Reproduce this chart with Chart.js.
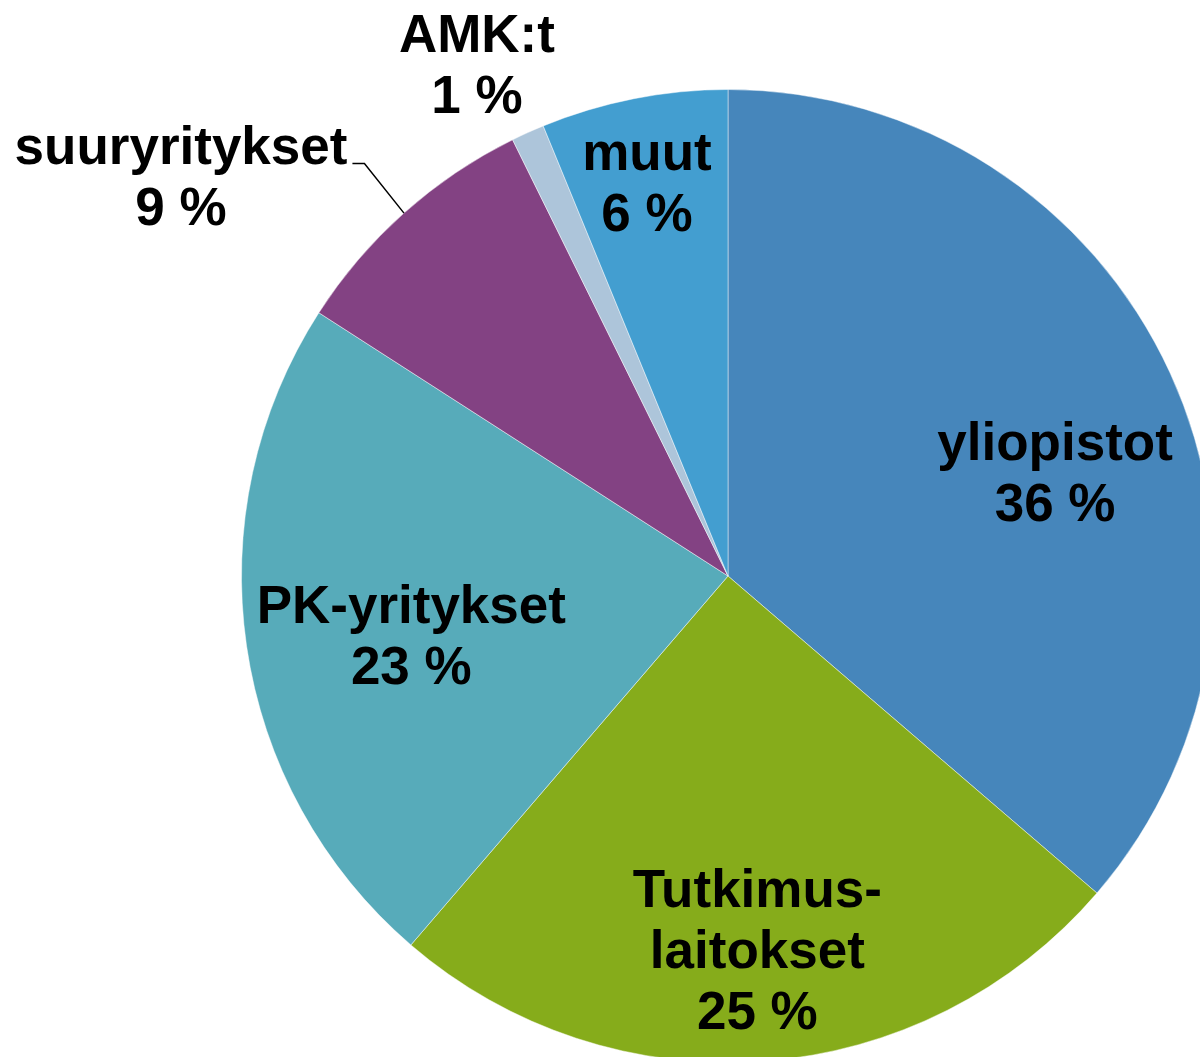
<!DOCTYPE html>
<html>
<head>
<meta charset="utf-8">
<script src="https://cdn.jsdelivr.net/npm/chart.js@4.4.0/dist/chart.umd.min.js"></script>
<style>
  html, body { margin: 0; padding: 0; background: #fff; overflow: hidden; }
  #wrap { position: absolute; left: 0; top: 0; width: 1300px; height: 1100px; }
</style>
</head>
<body>
<div id="wrap"><canvas id="chart-pie" width="1300" height="1100"></canvas></div>
<script>
// slices, clockwise from 12 o'clock
const categories = ["yliopistot", "Tutkimus-\nlaitokset", "PK-yritykset", "suuryritykset", "AMK:t", "muut"];
const shares = [36.3, 25.0, 22.8, 8.6, 1.1, 6.2];
const colors = ["#4686BB", "#86AC1B", "#57ABBA", "#834283", "#ADC5DA", "#439ED0"];

// label offset from each slice's tooltip point (first baseline)
const labelOffsets = [[106, -15], [11, 88], [-76, 12], [-385, -231], [-151, -302], [-34, -167]];
const leaderLine = [false, false, false, true, false, false];

const total = shares.reduce((a, b) => a + b, 0);

const labelPlugin = {
  id: "sliceLabels",
  afterDatasetsDraw(chart) {
    const ctx = chart.ctx;
    const arcs = chart.getDatasetMeta(0).data;
    ctx.save();
    ctx.font = "bold 53px 'Liberation Sans', Arial, sans-serif";
    ctx.fillStyle = "#000";
    ctx.textAlign = "center";
    ctx.textBaseline = "alphabetic";
    arcs.forEach((arc, i) => {
      const pos = arc.tooltipPosition();
      const x = pos.x + labelOffsets[i][0];
      const y0 = pos.y + labelOffsets[i][1];
      const lines = categories[i].split("\n");
      lines.push(Math.round(shares[i] / total * 100) + " %");
      lines.forEach((t, k) => ctx.fillText(t, x, y0 + k * 61));

      if (leaderLine[i]) {
        const p = arc.getProps(["x", "y", "startAngle", "endAngle", "outerRadius"], true);
        const mid = (p.startAngle + p.endAngle) / 2;
        const ex = p.x + p.outerRadius * Math.cos(mid);
        const ey = p.y + p.outerRadius * Math.sin(mid);
        const sx = x + ctx.measureText(lines[0]).width / 2 + 5;
        ctx.strokeStyle = "#000";
        ctx.lineWidth = 1.5;
        ctx.beginPath();
        ctx.moveTo(sx, y0);
        ctx.lineTo(sx + 12, y0);
        ctx.lineTo(ex, ey);
        ctx.stroke();
      }
    });
    ctx.restore();
  },
};

const config = {
  type: "pie",
  data: {
    labels: categories,
    datasets: [
      {
        data: shares,
        backgroundColor: colors,
        borderColor: "rgba(255, 255, 255, 0.45)",
        borderWidth: 1,
      },
    ],
  },
  options: {
    responsive: false,
    animation: false,
    layout: { padding: { left: 241, top: 89, right: 85, bottom: 37 } },
    plugins: {
      legend: { display: false },
      tooltip: { enabled: false },
    },
  },
  plugins: [labelPlugin],
};

new Chart(document.getElementById("chart-pie"), config);
</script>
</body>
</html>
